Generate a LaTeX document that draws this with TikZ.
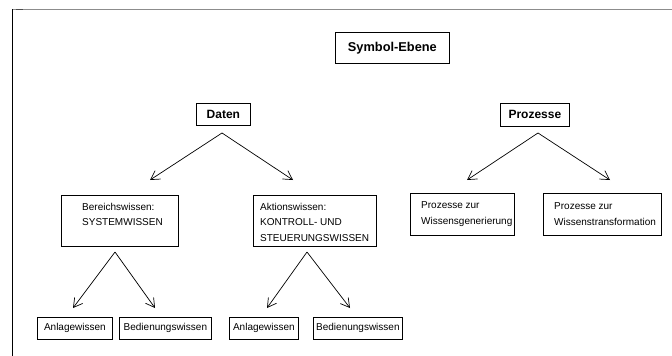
\documentclass[tikz,border=0pt]{standalone}
\usepackage{fontspec}
\setmainfont{Liberation Sans}
\usetikzlibrary{arrows.meta}
\begin{document}
\begin{tikzpicture}[x=1pt,y=-1pt,
  box/.style={draw,line width=0.8pt,rectangle,anchor=north west,inner sep=0pt,
    font=\fontsize{10}{15.5}\selectfont},
  titlebox/.style={box,font=\fontsize{12}{14}\selectfont\bfseries},
  lbl/.style={anchor=west,inner sep=0pt,align=left,font=\fontsize{10}{15.5}\selectfont},
  arr/.style={line width=0.7pt,-{Straight Barb[length=8.7pt,width=10pt,line width=0.7pt]}}
]
\useasboundingbox (0,0) rectangle (672,356);

% page frame
\draw[line width=1.3pt,gray!90] (12,9.5) -- (672,9.5);
\draw[line width=1.3pt,black!70] (16,9.5) -- (23,9.5);
\draw[line width=1.3pt] (12.5,9) -- (12.5,356);

% top level
\node[titlebox,minimum width=114pt,minimum height=31pt,font=\fontsize{12.8}{14}\selectfont\bfseries]
  (sym) at (335,32) {Symbol-Ebene};
\node[titlebox,minimum width=54pt,minimum height=22pt] (daten) at (196,103) {Daten};
\node[titlebox,minimum width=69pt,minimum height=23pt] (proz) at (500,103) {Prozesse};

% second level
\node[box,minimum width=117pt,minimum height=51pt] (bereich) at (61,195) {};
\node[lbl] at (82,214.5) {Bereichswissen:\\SYSTEMWISSEN};
\node[box,minimum width=123pt,minimum height=51pt] (aktion) at (253,195) {};
\node[lbl] at (260,222) {Aktionswissen:\\KONTROLL- UND\\STEUERUNGSWISSEN};
\node[box,minimum width=104pt,minimum height=42pt] (gen) at (410,193) {};
\node[lbl] at (421,214) {Prozesse zur\\Wissensgenerierung};
\node[box,minimum width=118pt,minimum height=42pt] (trans) at (543,193) {};
\node[lbl] at (554,214) {Prozesse zur\\Wissenstransformation};

% third level
\node[box,minimum width=75pt,minimum height=22pt] (anl1) at (37,317) {Anlagewissen};
\node[box,minimum width=92pt,minimum height=22pt] (bed1) at (119,317) {Bedienungswissen};
\node[box,minimum width=69pt,minimum height=22pt] (anl2) at (229,317) {Anlagewissen};
\node[box,minimum width=89pt,minimum height=22pt] (bed2) at (313,317) {Bedienungswissen};

% arrow origins and tips
\coordinate (dA) at (222,133);
\coordinate (dL) at (150,180);
\coordinate (dR) at (293,180);
\coordinate (pA) at (538,133);
\coordinate (pL) at (467,180);
\coordinate (pR) at (610,180);
\coordinate (bA) at (115,252);
\coordinate (bL) at (73,308);
\coordinate (bR) at (155,308);
\coordinate (aA) at (307,252);
\coordinate (aL) at (267,308);
\coordinate (aR) at (350,308);

\draw[arr] (dA) -- (dL);
\draw[arr] (dA) -- (dR);
\draw[arr] (pA) -- (pL);
\draw[arr] (pA) -- (pR);
\draw[arr] (bA) -- (bL);
\draw[arr] (bA) -- (bR);
\draw[arr] (aA) -- (aL);
\draw[arr] (aA) -- (aR);
\end{tikzpicture}
\end{document}
